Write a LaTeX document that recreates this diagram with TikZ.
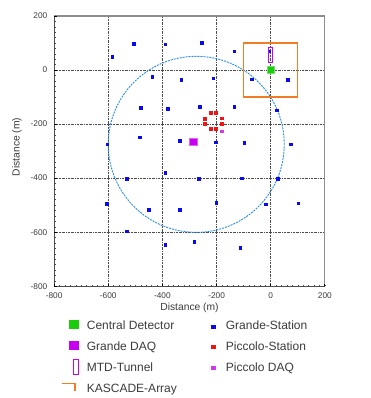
\documentclass[tikz,border=0pt]{standalone}
\usepackage{fontspec}
\setmainfont{Liberation Sans}
\definecolor{gblue}{RGB}{10,10,240}
\definecolor{pred}{RGB}{240,20,20}
\definecolor{dmag}{RGB}{200,0,240}
\definecolor{pmag}{RGB}{205,60,235}
\definecolor{cgreen}{RGB}{25,205,10}
\definecolor{korange}{RGB}{240,125,35}
\definecolor{cblue}{RGB}{40,140,235}
\definecolor{txt}{RGB}{60,60,60}
\begin{document}
\begin{tikzpicture}[x=1pt,y=1pt,
  grande/.style={fill=gblue,draw=none,minimum size=3.6pt,inner sep=0pt},
  piccolo/.style={fill=pred,draw=none,minimum size=3.6pt,inner sep=0pt},
  pdaq/.style={fill=pmag,draw=none,minimum size=3.6pt,inner sep=0pt},
  bigsq/.style={draw=#1!60!white,line width=0.6pt,fill=#1,minimum size=7.6pt,inner sep=0pt},
  gridline/.style={draw=black!70,line width=0.5pt,dash pattern=on 2pt off 1pt on 0.5pt off 1pt},
  ticklab/.style={font=\fontsize{8.3}{9}\selectfont,text=txt,inner sep=0pt},
  axtitle/.style={font=\fontsize{10.3}{12}\selectfont,text=txt,inner sep=0pt},
  legtext/.style={font=\fontsize{12}{14}\selectfont,text=txt,inner sep=0pt,anchor=base west},
  legsym/.style={minimum size=#1,inner sep=0pt,draw=none},
]
\useasboundingbox[fill=white] (0,0) rectangle (371,-398);

\begin{scope}[shift={(270.7pt,-70pt)},x=0.2707pt,y=0.2703pt]
  % grid
  \foreach \v in {-600,-400,-200,0} {
    \draw[gridline] (\v,-800) -- (\v,200);
    \draw[gridline] (-800,\v) -- (200,\v);
  }
  % frame
  \draw[black!45,line width=1.3pt] (-800,200) -- (200,200) -- (200,-800);
  \draw[black!70,line width=0.8pt] (-800,200) -- (-800,-800) -- (200,-800);
  % ticks
  \foreach \v in {-800,-780,...,200} {
    \draw[black!70,line width=0.5pt] (\v,-800) -- ++(0pt,1.5pt);
    \draw[black!70,line width=0.5pt] (-800,\v) -- ++(1.5pt,0pt);
  }
  \foreach \v in {-800,-600,...,200} {
    \draw[black,line width=0.8pt] (\v,-800) -- ++(0pt,2.5pt);
    \draw[black,line width=0.8pt] (-800,\v) -- ++(2.5pt,0pt);
    \node[ticklab,anchor=east] (yl\v) at ([xshift=-6.6pt]-800,\v) {\v};
    \node[ticklab,anchor=north] (xl\v) at ([yshift=-6pt]\v,-800) {\v};
  }
  % Grande circle
  \draw[cblue,line width=0.9pt,dash pattern=on 2pt off 1pt] (-275,-275) circle [radius=88pt];
  % KASCADE array
  \draw[korange,line width=1.2pt] (-100,-100) rectangle (100,100);
  % Grande stations
  \foreach \x/\y [count=\i] in {
    -506/97,-388/95,-254/99,-584/48,-134/69,-4/69,
    -436/-26,-329/-36,-212/-32,-68/-35,63/-36,
    -479/-141,-379/-144,-261/-137,-134/-137,23/-150,
    -482/-249,-603/-276,-335/-263,-201/-268,-97/-271,74/-276,
    -388/-381,-531/-403,-264/-403,-105/-402,26/-403,
    -604/-496,-200/-492,102/-494,-18/-498,-450/-519,-336/-519,
    -531/-597,-281/-637,-388/-647,-112/-659}
    \node[grande] (g\i) at (\x,\y) {};
  % MTD tunnel
  \draw[dmag,line width=0.9pt] (-8,27) rectangle (8,82);
  % Piccolo stations
  \foreach \x/\y [count=\i] in {
    -221/-159,-203/-158,-242/-181,-181/-179,
    -242/-199,-181/-199,-221/-218,-203/-218}
    \node[piccolo] (p\i) at (\x,\y) {};
  \node[pdaq] (pdaq) at (-179,-227) {};
  % Grande DAQ and central detector
  \node[bigsq=dmag] (gdaq) at (-286,-265) {};
  \node[bigsq=cgreen] (cd) at (0,0) {};
\end{scope}

% axis titles
\node[axtitle] (xt) at (189.5,-308) {Distance (m)};
\node[axtitle,rotate=90] (yt) at (17,-147) {Distance (m)};

% legend
\node[legsym=9.5pt,fill=cgreen] (lcd) at (74,-324.7) {};
\node[legtext] (tcd) at (86.7,-329.7) {Central Detector};
\node[legsym=9.5pt,fill=dmag] (lgd) at (74,-345.7) {};
\node[legtext] (tgd) at (86.7,-350.7) {Grande DAQ};
\draw[dmag,line width=0.8pt] (73,-359.5) rectangle (78,-374);
\node[legtext] (tmtd) at (86.7,-371.7) {MTD-Tunnel};
\draw[korange,line width=1.6pt] (61.7,-383.5) -- (75.2,-383.5) -- (75.2,-391);
\node[legtext] (tka) at (86.7,-392) {KASCADE-Array};

\node[legsym=4.5pt,fill=gblue] (lgs) at (213.3,-327) {};
\node[legtext] (tgs) at (225.7,-329.7) {Grande-Station};
\node[legsym=4.5pt,fill=pred] (lps) at (213.3,-347) {};
\node[legtext] (tps) at (225.7,-350.7) {Piccolo-Station};
\node[legsym=4.5pt,fill=pmag] (lpd) at (213.3,-368) {};
\node[legtext] (tpd) at (225.7,-371.7) {Piccolo DAQ};
\end{tikzpicture}
\end{document}
